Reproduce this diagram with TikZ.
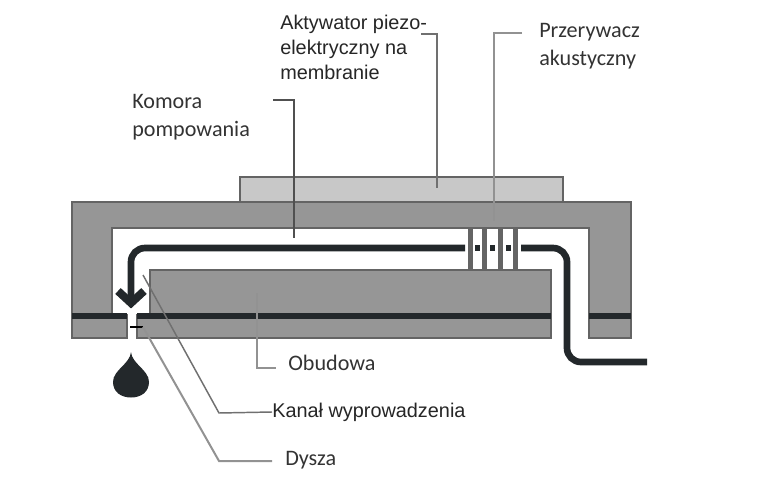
\documentclass[tikz,border=0pt]{standalone}
\usepackage{fontspec}
\setmainfont{Liberation Sans}
\newfontfamily\calfont{Carlito}
\definecolor{bodyg}{HTML}{969696}
\definecolor{edgeg}{HTML}{646464}
\definecolor{lightg}{HTML}{C8C8C8}
\definecolor{inkk}{HTML}{23282B}
\definecolor{leadg}{HTML}{707070}
\definecolor{leadl}{HTML}{929292}
\definecolor{leadd}{HTML}{505050}
\tikzset{
 x=0.75pt,y=-0.75pt,
 solid part/.style={fill=bodyg,draw=edgeg,line width=2pt,line join=miter},
 leader/.style={draw=leadg,line width=1.1pt},
 leaderl/.style={draw=leadl,line width=1.5pt},
 leaderd/.style={draw=leadd,line width=1.1pt},
 bar/.style={fill=edgeg,draw=none},
 lab/.style={anchor=west,inner sep=0pt,text=black!85,font=\fontsize{14.9}{19}\selectfont,align=left},
 labc/.style={anchor=west,inner sep=0pt,text=black!80,font=\calfont\fontsize{16.6}{21}\selectfont,align=left},
}
\begin{document}
\begin{tikzpicture}
\useasboundingbox (0,0) rectangle (783,493);
\fill[white] (0,0) rectangle (783,493);
% actuator
\draw[fill=lightg,draw=edgeg,line width=2pt] (240,202) -- (240,177) -- (563,177) -- (563,202);
% upper shell
\draw[solid part] (72,338) -- (72,202) -- (631,202) -- (631,338) -- (589,338) -- (589,228) -- (112,228) -- (112,315) -- (127,315) -- (127,338) -- cycle;
\fill[white] (113,229) rectangle (126,316);
% body
\draw[solid part] (150,315) -- (150,270) -- (551,270) -- (551,338) -- (137,338) -- (137,315) -- cycle;
% layers
\draw[inkk,line width=4pt] (72,316) -- (127,316);
\draw[inkk,line width=4pt] (137,316) -- (551,316);
\draw[inkk,line width=4pt] (589,316) -- (631,316);
% baffles
\foreach \i/\bx in {a/470,b/484,c/500,d/515}{\fill[bar] (\bx-2.5,228) rectangle (\bx+2.5,270);}
\foreach \i/\bx in {a/477,b/492,c/508}{\fill[inkk] (\bx-2.5,245) rectangle (\bx+2.5,251);}
% flow
\draw[inkk,line width=5pt] (465,248) -- (145,248) to[out=180,in=90] (131,262) -- (131,303);
\draw[inkk,line width=6pt,line join=miter] (118,291) -- (131,303) -- (144,291);
\draw[inkk,line width=5pt] (521,248) -- (553,248) to[out=0,in=90] (567,262) -- (567,348) to[out=-90,in=180] (581,362) -- (647,362);
% drop
\fill[inkk] (131,352) .. controls (132,364) and (149,370) .. (149,382) .. controls (149,392) and (141,397.5) .. (131,397.5) .. controls (121,397.5) and (113,392) .. (113,382) .. controls (113,370) and (130,364) .. (131,352) -- cycle;
\draw[black,line width=0.9pt] (130,327) -- (143,327);
% labels
\node[lab] (akt) at (280,47.5) {Aktywator piezo-\\elektryczny na\\membranie};
\node[labc] (prz) at (539,46) {Przerywacz\\akustyczny};
\node[labc] (kom) at (132,117) {Komora\\pompowania};
\node[labc] (obu) at (288,363) {Obudowa};
\node[lab] (kan) at (272,412) {Kanał wyprowadzenia};
\node[labc] (dys) at (285,460) {Dysza};
% leaders
\coordinate (lA) at (421,34); \coordinate (lB) at (522,33); \coordinate (lC) at (273,100);
\coordinate (lO) at (276,368); \coordinate (lD) at (272,461);
\draw[leader] (lA) -- (437,34) -- (437,188);
\draw[leaderl] (lB) -- (494,33) -- (494,221);
\draw[leaderd] (lC) -- (294,100) -- (294,238);
\draw[leaderl] (257,293) -- (257,368) -- (lO);
\draw[leader] (143,275) -- (219,413) -- (kan.west);
\draw[leaderl] (143,327) -- (219,461) -- (lD);
\end{tikzpicture}
\end{document}
